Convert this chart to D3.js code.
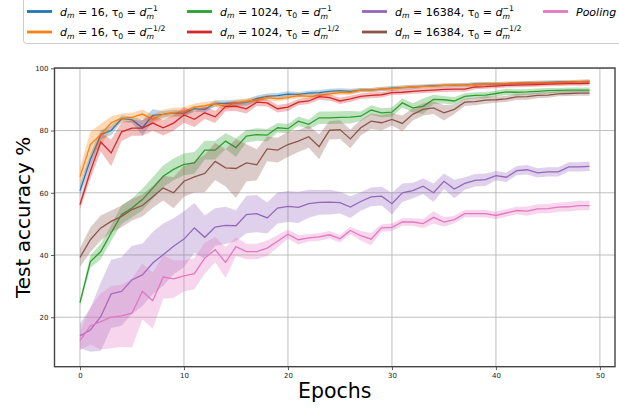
<!DOCTYPE html>
<html><head><meta charset="utf-8">
<script src="https://cdn.jsdelivr.net/npm/d3@7"></script>
<style>body{margin:0;background:#fff}svg{display:block}</style>
</head><body><svg id="c" width="619" height="408"></svg>
<script>
const epochs = [0,1,2,3,4,5,6,7,8,9,10,11,12,13,14,15,16,17,18,19,20,21,22,23,24,25,26,27,28,29,30,31,32,33,34,35,36,37,38,39,40,41,42,43,44,45,46,47,48,49];
const xTicks = [0,10,20,30,40,50];
const yTicks = [20,40,60,80,100];

const dm16InvMean = [60.7,70.7,78.7,80.0,83.8,83.5,80.9,84.9,85.2,85.7,85.5,87.0,86.8,88.7,88.7,88.9,89.0,90.3,91.0,91.2,91.7,91.6,92.0,92.2,92.6,92.8,92.6,93.0,93.0,93.3,93.6,93.8,94.0,94.2,94.4,94.5,94.6,94.7,94.9,95.0,95.0,95.1,95.2,95.3,95.4,95.5,95.6,95.6,95.7,95.8];
const dm16InvStd = [2,2,1.5,1.5,1,1,2.5,2,1,1,1,1,1,1,1,1,1,1,0.9,0.9,0.9,0.8,0.8,0.8,0.8,0.8,0.8,0.7,0.7,0.7,0.7,0.7,0.7,0.6,0.6,0.6,0.6,0.6,0.6,0.6,0.6,0.6,0.6,0.6,0.6,0.6,0.6,0.6,0.6,0.6];
const dm16SqrtMean = [65.1,75.5,78.7,82.5,84.0,84.2,85.3,83.6,85.3,85.8,86.0,87.5,88.0,88.6,87.8,88.9,89.5,89.8,90.6,90.2,90.6,91.2,91.0,91.2,91.8,92.2,92.2,93.0,93.0,93.4,93.4,93.8,94.0,94.2,94.3,94.5,94.6,94.6,94.8,95.0,95.0,95.1,95.2,95.3,95.4,95.4,95.5,95.6,95.7,95.8];
const dm16SqrtStd = [3,4.2,3.5,2,1.5,1.5,1.5,1.5,1.5,1.5,1.5,1.2,1.2,1,1,1,0.9,0.9,0.9,0.8,0.8,0.8,0.8,0.8,0.8,0.8,0.8,0.7,0.7,0.7,0.7,0.7,0.6,0.6,0.6,0.6,0.6,0.6,0.6,0.6,0.6,0.6,0.6,0.6,0.6,0.6,0.6,0.6,0.6,0.6];
const dm1024InvMean = [24.7,37.9,41.1,47.1,53.0,55.1,57.8,61.5,65.3,67.5,69.1,69.6,73.7,73.7,76.6,74.5,78.2,78.7,78.5,80.9,80.6,83.0,82.0,84.1,84.1,84.2,84.3,84.6,86.6,85.7,85.9,88.9,87.3,87.8,90.0,89.9,89.5,91.0,91.3,91.4,91.9,92.4,92.3,92.4,92.6,92.8,92.9,93.0,93.0,93.0];
const dm1024InvStd = [1,2,2.5,2.5,3,3,3.5,3.5,3.5,3.5,3.5,3.5,3,3,2.5,3,2,2,2,1.5,1.5,1.5,1.5,2,2,2,2,1.5,1.5,1.5,1.5,1.5,1.5,2.5,1.5,1.2,1.2,1,1,1,1,1,1,0.9,0.9,0.9,0.8,0.8,0.8,0.8];
const dm1024SqrtMean = [56.2,66.9,76.3,72.8,79.6,80.8,80.8,82.4,80.9,82.4,85.0,83.6,85.7,84.4,87.7,87.8,87.0,89.1,88.9,87.0,87.5,89.1,89.5,90.9,90.6,89.5,90.2,91.0,91.3,91.5,92.2,92.3,92.6,92.8,93.0,93.2,93.3,93.3,94.0,94.1,94.3,94.5,94.6,94.7,94.8,94.9,95.0,95.1,95.1,95.2];
const dm1024SqrtStd = [1.5,2.5,3,4.3,3,2.5,2.5,2.5,2.5,2.5,2.5,2.5,2,2,1.5,1.5,1.5,1.2,1.2,1.2,1.2,1,1,1,1,1,1,0.9,0.9,0.9,0.8,0.8,0.8,0.8,0.8,0.8,0.8,0.8,0.7,0.7,0.7,0.7,0.7,0.7,0.7,0.7,0.7,0.7,0.7,0.7];
const dm16384InvMean = [14.0,15.9,20.2,27.5,28.3,32.0,33.6,37.4,40.1,42.8,45.1,48.7,45.7,49.0,49.5,49.4,53.0,53.3,51.9,55.1,55.6,55.3,56.5,56.9,57.0,56.8,55.4,57.2,58.7,58.9,56.5,60.0,60.7,62.1,60.0,63.7,61.2,63.0,64.0,64.2,65.5,65.0,67.1,67.4,66.4,66.7,66.7,68.3,68.3,68.5];
const dm16384InvStd = [4,7,11,11,11,11,10,10,10,9,9,8,7,6,6,5,6,6,5,5,5,5,4.5,4,4,3.5,3.5,3,3,3,3.5,3,2.5,2.5,3,2.5,3,2,2,2,1.5,1.5,1.5,1.5,1.5,1.5,1.5,1.5,1.5,1.5];
const dm16384SqrtMean = [39.2,44.9,48.7,50.8,52.4,54.6,55.9,58.7,61.5,60.0,63.7,65.1,66.2,70.1,68.0,67.8,69.6,69.0,74.1,73.7,75.5,76.6,78.0,74.8,80.1,80.3,77.3,80.9,83.0,82.5,83.6,82.3,85.2,86.8,87.3,85.7,86.8,89.1,89.3,89.8,89.9,90.2,90.8,90.9,91.3,91.4,91.8,91.9,92.0,92.0];
const dm16384SqrtStd = [3,4,4,3.5,3.5,3.5,3.5,3.5,4,5,5,5,6,6,6,9.5,6,5,4,4,4,3.5,3.5,4,3,3,3,2.5,2.5,2.5,2,2.5,2,2,2,2.5,1.5,1.2,1.2,1.2,1,1,1,1,0.9,0.9,0.8,0.8,0.8,0.8];
const poolingMean = [12.5,17.2,18.6,20.0,20.4,21.3,28.3,25.3,32.9,32.3,33.3,34.0,39.0,41.7,37.6,42.7,41.1,41.1,42.2,44.4,46.7,44.9,45.5,45.8,46.5,45.2,47.9,46.2,45.1,48.7,48.9,50.6,50.6,50.1,52.1,50.6,51.4,53.3,53.3,53.3,52.7,53.5,54.3,54.1,54.8,54.9,55.4,55.5,55.9,55.9];
const poolingStd = [3,6,9,10,10,11,9,9,7,6,5,5,5,4,5,3,2.5,2.5,2.5,2,1.5,1.5,1.2,1.2,1.2,1.2,1.2,1.5,2,1.2,1.2,1.2,1.2,1.5,2,1.5,1.2,1.2,1.2,1.2,1.2,1.2,1.2,1.5,1.5,1.5,1.5,1.5,1.5,1.5];

const seriesDm = ["16","16","1024","1024","16384","16384",null];
const seriesExp = ["\u22121","\u22121/2","\u22121","\u22121/2","\u22121","\u22121/2",null];
const seriesColors = ["#1f77b4","#ff7f0e","#2ca02c","#d62728","#9467bd","#8c564b","#e377c2"];
const seriesMeans = [dm16InvMean,dm16SqrtMean,dm1024InvMean,dm1024SqrtMean,dm16384InvMean,dm16384SqrtMean,poolingMean];
const seriesStds = [dm16InvStd,dm16SqrtStd,dm1024InvStd,dm1024SqrtStd,dm16384InvStd,dm16384SqrtStd,poolingStd];

const svg = d3.select("#c");
const L = 54.5, R = 615, T = 68, B = 366.7;
const x = d3.scaleLinear().domain([-2.45, 51.45]).range([L, R]);
const y = d3.scaleLinear().domain([4.1, 100.1]).range([B, T]);

// grid
const g = svg.append("g");
g.selectAll(".gx").data(xTicks).join("line")
  .attr("x1", d => x(d)).attr("x2", d => x(d)).attr("y1", T).attr("y2", B)
  .attr("stroke", "#b0b0b0").attr("stroke-width", 1).attr("opacity", 0.8);
g.selectAll(".gy").data(yTicks).join("line")
  .attr("y1", d => y(d)).attr("y2", d => y(d)).attr("x1", L).attr("x2", R)
  .attr("stroke", "#b0b0b0").attr("stroke-width", 1).attr("opacity", 0.8);

svg.append("clipPath").attr("id","clip").append("rect")
  .attr("x", L).attr("y", T).attr("width", R-L).attr("height", B-T);
const plot = svg.append("g").attr("clip-path","url(#clip)");

seriesMeans.forEach((m, i) => {
  const s = seriesStds[i];
  const area = d3.area().x((d, j) => x(epochs[j])).y0((d, j) => y(m[j] - s[j])).y1((d, j) => y(m[j] + s[j]));
  plot.append("path").attr("d", area(m)).attr("fill", seriesColors[i]).attr("fill-opacity", 0.3).attr("stroke","none");
  const line = d3.line().x((d, j) => x(epochs[j])).y(d => y(d));
  plot.append("path").attr("d", line(m)).attr("fill","none").attr("stroke", seriesColors[i]).attr("stroke-width", 1.3);
});

// axes
const xAxis = d3.axisBottom(x).tickValues(xTicks).tickSize(3.5).tickPadding(3).tickFormat(d3.format("d"));
const yAxis = d3.axisLeft(y).tickValues(yTicks).tickSize(3.5).tickPadding(2.5).tickFormat(d3.format("d"));
const ax = svg.append("g").attr("transform", `translate(0,${B})`).call(xAxis);
const ay = svg.append("g").attr("transform", `translate(${L},0)`).call(yAxis);
[ax, ay].forEach(a => {
  a.select(".domain").remove();
  a.selectAll("text").attr("font-family","DejaVu Sans").attr("font-size", 7).attr("fill","#222");
  a.selectAll("line").attr("stroke","#333").attr("stroke-width", 0.8);
});

// spines
svg.append("rect").attr("x", L).attr("y", T).attr("width", R-L).attr("height", B-T)
  .attr("fill","none").attr("stroke","#444").attr("stroke-width", 1.4);

svg.append("text").attr("x", (L+R)/2).attr("y", 398).attr("text-anchor","middle")
  .attr("font-family","DejaVu Sans").attr("font-size", 20.5).attr("fill","#000").text("Epochs");
svg.append("text").attr("transform", `translate(30,${(T+B)/2}) rotate(-90)`).attr("text-anchor","middle")
  .attr("font-family","DejaVu Sans").attr("font-size", 20).attr("fill","#000").text("Test accuracy %");

// legend
const lg = svg.append("g");
lg.append("rect").attr("x", 23.5).attr("y", -10).attr("width", 640).attr("height", 53.5).attr("rx", 3)
  .attr("fill","#fff").attr("fill-opacity", 0.8).attr("stroke","#cccccc").attr("stroke-width", 1);
const colX = [27, 187, 362, 543];
const rowY = [11.5, 32];
const fs = 11, sfs = 7.7;
seriesColors.forEach((c, i) => {
  const col = Math.floor(i / 2), row = i % 2;
  const hx = colX[col], hy = rowY[row];
  lg.append("line").attr("x1", hx).attr("x2", hx + 25).attr("y1", hy).attr("y2", hy)
    .attr("stroke", c).attr("stroke-width", 2.8);
  const t = lg.append("text").attr("x", hx + 33).attr("y", hy + 4)
    .attr("font-family","DejaVu Sans").attr("font-size", fs).attr("fill","#000");
  if (seriesDm[i] === null) {
    t.attr("font-style","italic").text("Pooling");
    return;
  }
  t.append("tspan").attr("font-style","italic").text("d");
  t.append("tspan").attr("font-style","italic").attr("font-size", sfs).attr("dy", 2.5).text("m");
  t.append("tspan").attr("dy", -2.5).text(` = ${seriesDm[i]}, \u03c4`);
  t.append("tspan").attr("font-size", sfs).attr("dy", 2.5).text("0");
  t.append("tspan").attr("dy", -2.5).text(" = ");
  t.append("tspan").attr("font-style","italic").text("d");
  t.append("tspan").attr("font-style","italic").attr("font-size", sfs).attr("dy", 3).text("m");
  t.append("tspan").attr("font-size", sfs).attr("dx", -7.3).attr("dy", -8).text(seriesExp[i]);
});
</script></body></html>
